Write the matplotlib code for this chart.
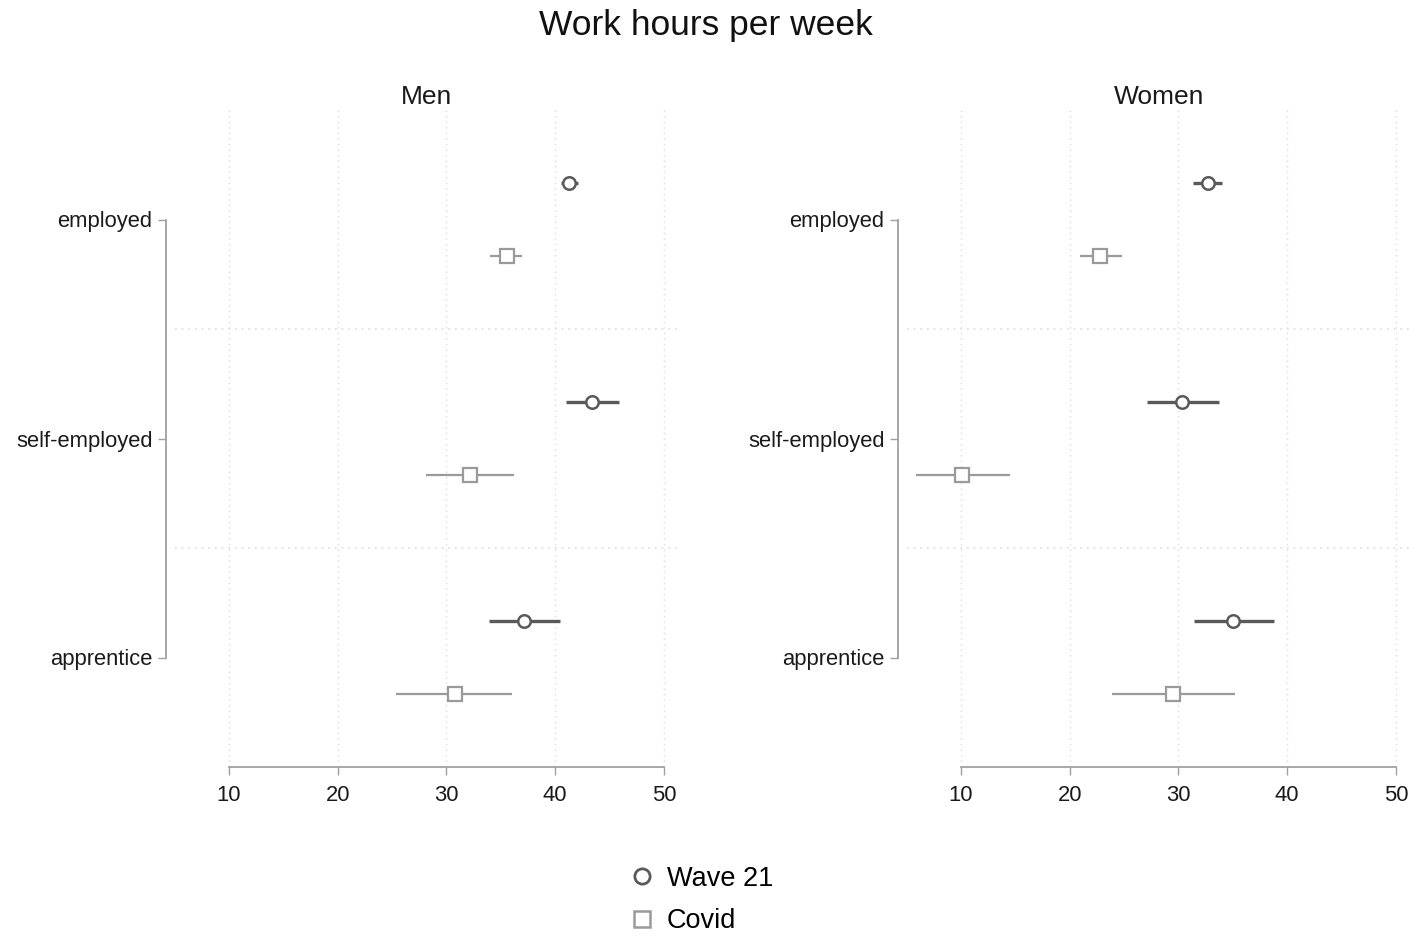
import matplotlib
matplotlib.use("Agg")
import matplotlib.pyplot as plt
from matplotlib.lines import Line2D

plt.rcParams['font.family'] = ['Liberation Sans', 'DejaVu Sans']

# Estimates with 95% confidence bounds, one row per employment status
statuses = ['employed', 'self-employed', 'apprentice']

men_wave = [41.3, 43.4, 37.1]
men_wave_lo = [40.5, 41.0, 33.9]
men_wave_hi = [42.1, 45.9, 40.4]
men_covid = [35.6, 32.2, 30.8]
men_covid_lo = [34.0, 28.1, 25.4]
men_covid_hi = [36.9, 36.2, 36.0]

women_wave = [32.7, 30.3, 35.0]
women_wave_lo = [31.3, 27.1, 31.4]
women_wave_hi = [34.0, 33.7, 38.8]
women_covid = [22.8, 10.1, 29.5]
women_covid_lo = [20.9, 5.9, 23.9]
women_covid_hi = [24.8, 14.5, 35.2]

xticks = [10, 20, 30, 40, 50]

wave_col = '#5a5a5a'
covid_col = '#9a9a9a'
grid_col = '#dcdcdc'

fig = plt.figure(figsize=(14.11, 9.36), dpi=100)
W, H = 1411, 936
top, bot = 110, 767
ax_men = fig.add_axes([174.6 / W, 1 - bot / H, 504.6 / W, (bot - top) / H])
ax_women = fig.add_axes([906.6 / W, 1 - bot / H, 504.6 / W, (bot - top) / H])


def draw_panel(ax, title, wave, wlo, whi, covid, clo, chi):
    ypos = list(range(len(statuses)))
    off = 0.167
    for x in xticks:
        ax.axvline(x, color=grid_col, lw=1, ls=(0, (1, 3)), zorder=0)
    for y in [0.5, 1.5]:
        ax.axhline(y, color=grid_col, lw=1.2, ls=(0, (1, 3)), zorder=0)
    for i, y in enumerate(ypos):
        ax.hlines(y - off, wlo[i], whi[i], color=wave_col, lw=2.4, zorder=2)
        ax.plot(wave[i], y - off, 'o', ms=9, mfc='white', mec=wave_col,
                mew=1.8, zorder=3)
        ax.hlines(y + off, clo[i], chi[i], color=covid_col, lw=1.6, zorder=2)
        ax.plot(covid[i], y + off, 's', ms=10, mfc='white', mec=covid_col,
                mew=1.6, zorder=3)
    ax.set_xlim(5.0, 51.4)
    ax.set_ylim(2.5, -0.5)
    ax.set_xticks(xticks)
    ax.set_yticks(ypos)
    ax.set_yticklabels(statuses)
    for s in ['top', 'right']:
        ax.spines[s].set_visible(False)
    ax.spines['left'].set_position(('outward', 6))
    ax.spines['left'].set_bounds(0, 2)
    ax.spines['bottom'].set_bounds(10, 50)
    for s in ['left', 'bottom']:
        ax.spines[s].set_color('#a0a0a0')
        ax.spines[s].set_linewidth(1.3)
    ax.tick_params(axis='both', direction='out', length=6, width=1,
                   color='#a0a0a0', labelsize=15.8, labelcolor='#1a1a1a')
    ax.tick_params(axis='x', pad=7)
    ax.tick_params(axis='y', pad=4)
    ax.set_title(title, fontsize=19, color='#1a1a1a', pad=4)


draw_panel(ax_men, 'Men', men_wave, men_wave_lo, men_wave_hi,
           men_covid, men_covid_lo, men_covid_hi)
draw_panel(ax_women, 'Women', women_wave, women_wave_lo, women_wave_hi,
           women_covid, women_covid_lo, women_covid_hi)

fig.text(0.5, 1 - 25 / H, 'Work hours per week', ha='center', va='center',
         fontsize=25.5, color='#111111')

handles = [
    Line2D([], [], ls='none', marker='o', ms=11, mfc='white', mec=wave_col, mew=2),
    Line2D([], [], ls='none', marker='s', ms=12, mfc='white', mec=covid_col, mew=1.8),
]
fig.legend(handles, ['Wave 21', 'Covid'], loc='center',
           bbox_to_anchor=(701 / W, 1 - 900 / H), frameon=False,
           fontsize=19.5, handletextpad=0.4, labelspacing=0.6,
           handlelength=1.0)

fig.savefig('out.png', dpi=100, facecolor='white')
